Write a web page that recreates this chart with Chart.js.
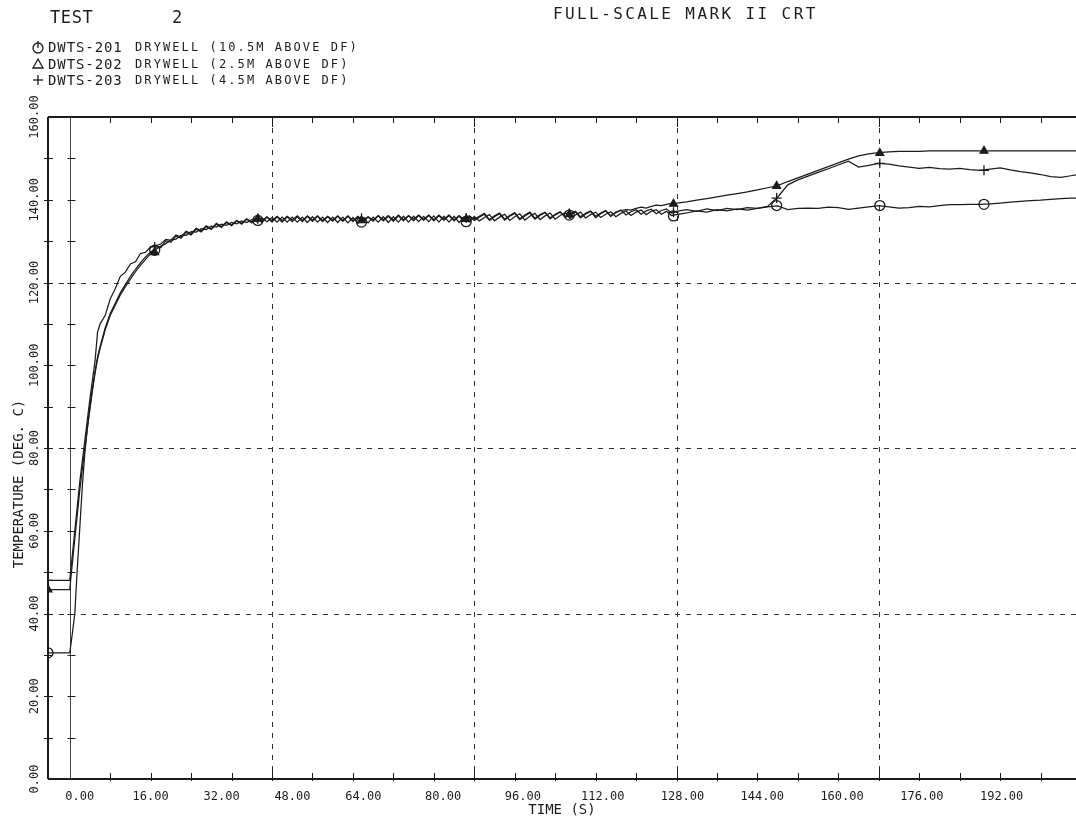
<!DOCTYPE html>
<html>
<head>
<meta charset="utf-8">
<script src="https://cdn.jsdelivr.net/npm/chart.js@4.4.1/dist/chart.umd.min.js"></script>
<style>
  html, body { margin: 0; padding: 0; background: #fff; }
  #wrap { position: relative; width: 1076px; height: 819px; overflow: hidden;
          font-family: "DejaVu Sans Mono", monospace; color: #1e1e1e; }
  #c { position: absolute; left: 0; top: 0; }
  .t { position: absolute; white-space: pre; line-height: 1; }
</style>
</head>
<body>
<div id="wrap">
  <canvas id="c" width="1076" height="819"></canvas>
  <div class="t" style="left:50px;top:9px;font-size:17px;letter-spacing:0.6px">TEST</div>
  <div class="t" style="left:172px;top:9px;font-size:17px">2</div>
  <div class="t" style="left:553px;top:6px;font-size:16px;letter-spacing:2.4px">FULL-SCALE MARK II CRT</div>
  <div class="t" style="left:48px;top:40px;font-size:14px;letter-spacing:0.9px">DWTS-201</div>
  <div class="t" style="left:135px;top:41px;font-size:12px;letter-spacing:2.1px">DRYWELL (10.5M ABOVE DF)</div>
  <div class="t" style="left:48px;top:57px;font-size:14px;letter-spacing:0.9px">DWTS-202</div>
  <div class="t" style="left:135px;top:58px;font-size:12px;letter-spacing:2.1px">DRYWELL (2.5M ABOVE DF)</div>
  <div class="t" style="left:48px;top:73px;font-size:14px;letter-spacing:0.9px">DWTS-203</div>
  <div class="t" style="left:135px;top:74px;font-size:12px;letter-spacing:2.1px">DRYWELL (4.5M ABOVE DF)</div>
</div>
<script>
(function () {
  'use strict';

  const INK  = '#1c1c1c';
  const FONT = '"DejaVu Sans Mono", monospace';

  const X_MIN = -4.3;
  const X_MAX = 199;
  const Y_MIN = 0;
  const Y_MAX = 160;
  const X_TICK_STEP  = 8;
  const Y_TICK_STEP  = 10;
  const X_LABELS = [0, 16, 32, 48, 64, 80, 96, 112, 128, 144, 160, 176, 192];
  const Y_LABELS = [0, 20, 40, 60, 80, 100, 120, 140, 160];
  const GRID_T   = [40, 80, 120, 160];
  const GRID_V   = [40, 80, 120];

  // time (s)
  const T = [
    -4.3, 0, 0.5, 1, 1.5, 2, 2.5, 3, 3.5, 4, 4.5, 5, 5.5, 6, 7, 8, 9, 10, 11, 12, 13, 14, 15, 16,
    17, 18, 19, 20, 21, 22, 23, 24, 25, 26, 27, 28, 29, 30, 31, 32, 33, 34, 35, 36,
    37, 38, 39, 40, 41, 42, 43, 44, 45, 46, 47, 48, 49, 50, 51, 52, 53, 54, 55, 56, 57, 58,
    59, 60, 61, 62, 63, 64, 65, 66, 67, 68, 69, 70, 71, 72, 73, 74, 75, 76, 77, 78, 79, 80,
    81, 82, 83, 84, 85, 86, 87, 88, 89, 90, 91, 92, 93, 94, 95, 96, 97, 98, 99, 100,
    101, 102, 103, 104, 105, 106, 107, 108, 109, 110, 111, 112, 113, 114, 115, 116, 117, 118, 119, 120,
    122, 124, 126, 128, 130, 132, 134, 136, 138, 140, 142, 144, 146, 148, 150, 152, 154, 156, 158, 160,
    162, 164, 166, 168, 170, 172, 174, 176, 178, 180, 182, 184, 186, 188, 190, 192, 194, 196, 198, 199
  ];

  // DWTS-201  drywell (10.5 m above DF)
  const S201 = [
    30.5, 30.5, 35, 40, 51, 61, 71, 79, 85, 90, 94.5, 98.5, 102, 104.5, 109, 112.5, 115, 117.5, 119.5, 121.5, 123.2, 124.8, 126.2, 127.4,
    128.0, 128.8, 129.4, 130.3, 130.5, 131.4, 131.4, 132.3, 132.2, 133.0, 132.8, 133.6, 133.4, 134.1, 133.8, 134.5, 134.2, 134.9, 134.5, 135.2,
    134.7, 135.6, 134.7, 135.7, 134.6, 135.8, 134.6, 135.8, 134.6, 135.8, 134.5, 135.9, 134.6, 135.8, 134.5, 135.8, 134.5, 135.8, 134.4, 135.7, 134.3, 135.6,
    134.4, 135.8, 134.6, 135.9, 134.5, 135.9, 134.6, 136.0, 134.6, 136.0, 134.7, 136.0, 134.7, 136.1, 134.6, 136.0, 134.6, 136.0, 134.5, 135.9, 134.6, 136.0,
    134.9, 135.7, 136.4, 134.9, 135.8, 136.5, 135.0, 135.9, 136.6, 135.1, 136.0, 136.7, 135.2, 136.1, 136.8, 135.3, 136.2, 136.9, 135.5, 136.3,
    137.0, 135.6, 136.4, 137.0, 135.7, 136.5, 137.1, 135.9, 136.7, 137.3, 136.2, 137.0, 137.5, 136.4, 137.2, 137.6, 136.5, 137.2, 136.2, 136.4,
    136.8, 137.3, 137.0, 137.6, 137.3, 137.8, 137.5, 137.9, 138.3, 138.5, 137.6, 137.9, 138.0, 137.9, 138.2, 138.1, 137.7, 138.0, 138.3, 138.6,
    138.3, 138.0, 138.1, 138.4, 138.3, 138.6, 138.8, 138.8, 138.9, 138.9, 139.0, 139.2, 139.4, 139.6, 139.8, 139.9, 140.1, 140.3, 140.4, 140.4
  ];

  // DWTS-202  drywell (2.5 m above DF)
  const S202 = [
    45.8, 45.8, 52, 58, 64, 70, 75, 80, 85, 89.5, 94, 98, 101.5, 104, 108.5, 112, 114.5, 117, 119, 120.8, 122.6, 124.2, 125.6, 127,
    128.7, 128.4, 130.1, 129.7, 131.2, 130.7, 132.1, 131.5, 132.9, 132.2, 133.5, 132.8, 134.1, 133.3, 134.5, 133.7, 134.9, 134.1, 135.3, 134.4,
    135.7, 134.5, 135.8, 134.6, 135.9, 134.6, 135.9, 134.7, 135.9, 134.7, 136.0, 134.8, 136.0, 134.7, 135.9, 134.8, 136.0, 134.8, 136.0, 134.7, 135.9, 134.6,
    135.8, 134.8, 136.1, 134.9, 136.0, 134.8, 136.1, 134.9, 136.1, 134.9, 136.2, 135.0, 136.2, 134.9, 136.1, 135.0, 136.2, 134.9, 136.0, 134.8, 136.0, 135.0,
    135.8, 136.5, 135.0, 135.9, 136.6, 135.1, 136.0, 136.7, 135.2, 136.1, 136.8, 135.3, 136.2, 136.9, 135.4, 136.3, 137.0, 135.8, 136.6, 137.1,
    135.6, 136.5, 137.2, 135.7, 136.6, 137.3, 136.0, 137.0, 137.4, 137.6, 137.5, 137.9, 138.2, 138.0, 138.4, 138.7, 138.6, 138.9, 139.1, 139.2,
    139.5, 139.9, 140.3, 140.7, 141.1, 141.5, 141.9, 142.4, 142.9, 143.4, 144.4, 145.3, 146.2, 147.1, 148.0, 148.9, 149.8, 150.6, 151.1, 151.4,
    151.6, 151.7, 151.7, 151.7, 151.8, 151.8, 151.8, 151.8, 151.8, 151.8, 151.8, 151.8, 151.8, 151.8, 151.8, 151.8, 151.8, 151.8, 151.8, 151.8
  ];

  // DWTS-203  drywell (4.5 m above DF)
  const S203 = [
    48, 48, 54, 60, 66, 72, 77, 82, 87, 92, 96.5, 101, 108, 110, 112, 116, 118.5, 121.5, 122.5, 124.5, 125, 127, 127.3, 128.6,
    128.9, 129.3, 130.4, 130.2, 131.5, 131.0, 132.4, 131.8, 133.1, 132.5, 133.7, 133.0, 134.3, 133.5, 134.7, 133.9, 135.0, 134.3, 135.4, 134.6,
    135.8, 134.9, 135.9, 135.0, 136.0, 135.0, 136.0, 135.1, 136.1, 135.0, 136.1, 135.1, 136.1, 135.0, 136.0, 135.1, 136.1, 135.0, 136.1, 135.0, 136.0, 134.9,
    135.9, 135.1, 136.2, 135.2, 136.2, 135.1, 136.3, 135.2, 136.2, 135.3, 136.3, 135.3, 136.3, 135.2, 136.3, 135.3, 136.3, 135.2, 136.2, 135.1, 136.1, 135.3,
    136.0, 136.7, 135.2, 136.1, 136.8, 135.3, 136.2, 136.9, 135.4, 136.3, 137.0, 135.5, 136.4, 137.0, 135.6, 136.5, 137.1, 135.8, 136.6, 137.2,
    135.9, 136.7, 137.3, 136.0, 136.8, 137.4, 136.1, 136.9, 137.5, 136.3, 137.1, 137.6, 136.5, 137.3, 137.7, 136.6, 137.4, 137.8, 136.8, 137.2,
    137.6, 137.2, 137.8, 137.4, 137.9, 137.6, 138.1, 137.9, 138.4, 140.6, 143.6, 144.8, 145.7, 146.6, 147.5, 148.4, 149.3, 147.9, 148.3, 148.8,
    148.6, 148.2, 147.9, 147.6, 147.8, 147.5, 147.4, 147.6, 147.3, 147.1, 147.4, 147.7, 147.2, 146.8, 146.5, 146.1, 145.6, 145.4, 145.8, 146.0
  ];

  // symbol positions along each curve
  const MARK_T = [-4.3, 16.8, 37.2, 57.7, 78.4, 98.8, 119.4, 139.8, 160.2, 180.8];
  const M201   = [30.5, 127.8, 135.0, 134.6, 134.7, 136.3, 136.1, 138.6, 138.6, 138.9];
  const M202   = [45.8, 127.3, 135.4, 135.0, 135.3, 136.5, 139.0, 143.3, 151.3, 151.8];
  const M203   = [48.0, 128.6, 135.4, 135.5, 135.6, 136.7, 137.0, 140.4, 148.8, 147.1];

  const pts = (xs, ys) => xs.map((x, i) => ({ x: x, y: ys[i] }));

  // the plotter printed the time labels drifting left of their ticks
  function labelShift(v) {
    return 10 - 40 * Math.min(v, 64) / 64 - (v > 64 ? (v - 64) * 0.07 : 0);
  }

  function seg(ctx, x1, y1, x2, y2) {
    ctx.beginPath();
    ctx.moveTo(x1, y1);
    ctx.lineTo(x2, y2);
    ctx.stroke();
  }

  function lineSet(data) {
    return { type: 'line', data: data, borderColor: INK, borderWidth: 1.25,
             pointRadius: 0, tension: 0, fill: false };
  }

  function markSet(data, style, radius, fill) {
    return { type: 'scatter', data: data, showLine: false, pointStyle: style,
             pointRadius: radius, pointBorderWidth: 1.3, pointBorderColor: INK,
             pointBackgroundColor: fill };
  }

  const plotFrame = {
    id: 'plotFrame',
    beforeDatasetsDraw(chart) {
      const { ctx, chartArea: a, scales: { x, y } } = chart;
      ctx.save();
      ctx.strokeStyle = '#333';
      ctx.lineWidth = 1;
      ctx.setLineDash([5, 6]);
      GRID_T.forEach(t => {
        const px = Math.round(x.getPixelForValue(t)) + 0.5;
        seg(ctx, px, a.top, px, a.bottom);
      });
      GRID_V.forEach(v => {
        const py = Math.round(y.getPixelForValue(v)) + 0.5;
        seg(ctx, a.left, py, a.right, py);
      });
      ctx.setLineDash([]);
      ctx.strokeStyle = '#444';
      const x0 = Math.round(x.getPixelForValue(0)) + 0.5;
      seg(ctx, x0, a.top, x0, a.bottom);
      ctx.restore();
    },
    afterDraw(chart) {
      const { ctx, chartArea: a, scales: { x, y } } = chart;
      ctx.save();
      ctx.strokeStyle = INK;

      // ticks
      ctx.lineWidth = 1;
      const x0 = Math.round(x.getPixelForValue(0)) + 0.5;
      for (let v = Y_MIN + Y_TICK_STEP; v < Y_MAX; v += Y_TICK_STEP) {
        const py = Math.round(y.getPixelForValue(v)) + 0.5;
        seg(ctx, a.left - 4, py, a.left + 5, py);
        seg(ctx, x0 - 3, py, x0 + 5, py);
      }
      for (let t = X_TICK_STEP; t < X_MAX; t += X_TICK_STEP) {
        const px = Math.round(x.getPixelForValue(t)) + 0.5;
        const len = t % 40 === 0 ? 10 : 6;
        seg(ctx, px, a.bottom + 2, px, a.bottom - len);
        seg(ctx, px, a.top, px, a.top + len);
      }

      // frame
      ctx.lineWidth = 2;
      seg(ctx, a.left, a.top, a.right, a.top);
      seg(ctx, a.left, a.top, a.left, a.bottom);
      seg(ctx, a.left, a.bottom, a.right, a.bottom);

      ctx.fillStyle = INK;
      ctx.textAlign = 'center';
      ctx.textBaseline = 'middle';
      ctx.font = '12px ' + FONT;

      // time labels
      X_LABELS.forEach(v => {
        ctx.fillText(v.toFixed(2), x.getPixelForValue(v) + labelShift(v), a.bottom + 18);
      });

      // temperature labels and title, rotated
      Y_LABELS.forEach(v => {
        ctx.save();
        ctx.translate(35, y.getPixelForValue(v));
        ctx.rotate(-Math.PI / 2);
        ctx.fillText(v.toFixed(2), 0, 0);
        ctx.restore();
      });
      ctx.save();
      ctx.font = '14px ' + FONT;
      ctx.translate(19, 484);
      ctx.rotate(-Math.PI / 2);
      ctx.fillText('TEMPERATURE (DEG. C)', 0, 0);
      ctx.restore();

      // legend symbols
      ctx.lineWidth = 1.3;
      ctx.beginPath();
      ctx.arc(38, 48, 5, 0, Math.PI * 2);
      ctx.stroke();
      seg(ctx, 38, 41, 38, 48);
      ctx.beginPath();
      ctx.moveTo(38, 59);
      ctx.lineTo(43, 68);
      ctx.lineTo(33, 68);
      ctx.closePath();
      ctx.stroke();
      seg(ctx, 33, 80, 43, 80);
      seg(ctx, 38, 75, 38, 85);
      ctx.restore();
    }
  };

  function build() {
    const ctx = document.getElementById('c');
    new Chart(ctx, {
      data: {
        datasets: [
          lineSet(pts(T, S201)),
          lineSet(pts(T, S202)),
          lineSet(pts(T, S203)),
          markSet(pts(MARK_T, M201), 'circle', 5, 'rgba(255,255,255,0)'),
          markSet(pts(MARK_T, M202), 'triangle', 4.5, INK),
          markSet(pts(MARK_T, M203), 'cross', 5, INK),
        ],
      },
      options: {
        responsive: false,
        animation: false,
        devicePixelRatio: 1,
        layout: { autoPadding: false, padding: { top: 117, right: 0, bottom: 0, left: 0 } },
        plugins: { legend: { display: false }, tooltip: { enabled: false } },
        scales: {
          x: {
            type: 'linear',
            min: X_MIN,
            max: X_MAX,
            afterFit(s) { s.height = 40; },
            border: { display: false },
            grid: { display: false, drawTicks: false },
            ticks: { display: false },
            title: {
              display: true,
              text: 'TIME (S)',
              color: INK,
              font: { family: FONT, size: 14 },
              padding: 0,
            },
          },
          y: {
            type: 'linear',
            min: Y_MIN,
            max: Y_MAX,
            afterFit(s) { s.width = 48; },
            border: { display: false },
            grid: { display: false, drawTicks: false },
            ticks: { display: false },
          },
        },
      },
      plugins: [plotFrame],
    });
  }

  build();
})();
</script>
</body>
</html>
